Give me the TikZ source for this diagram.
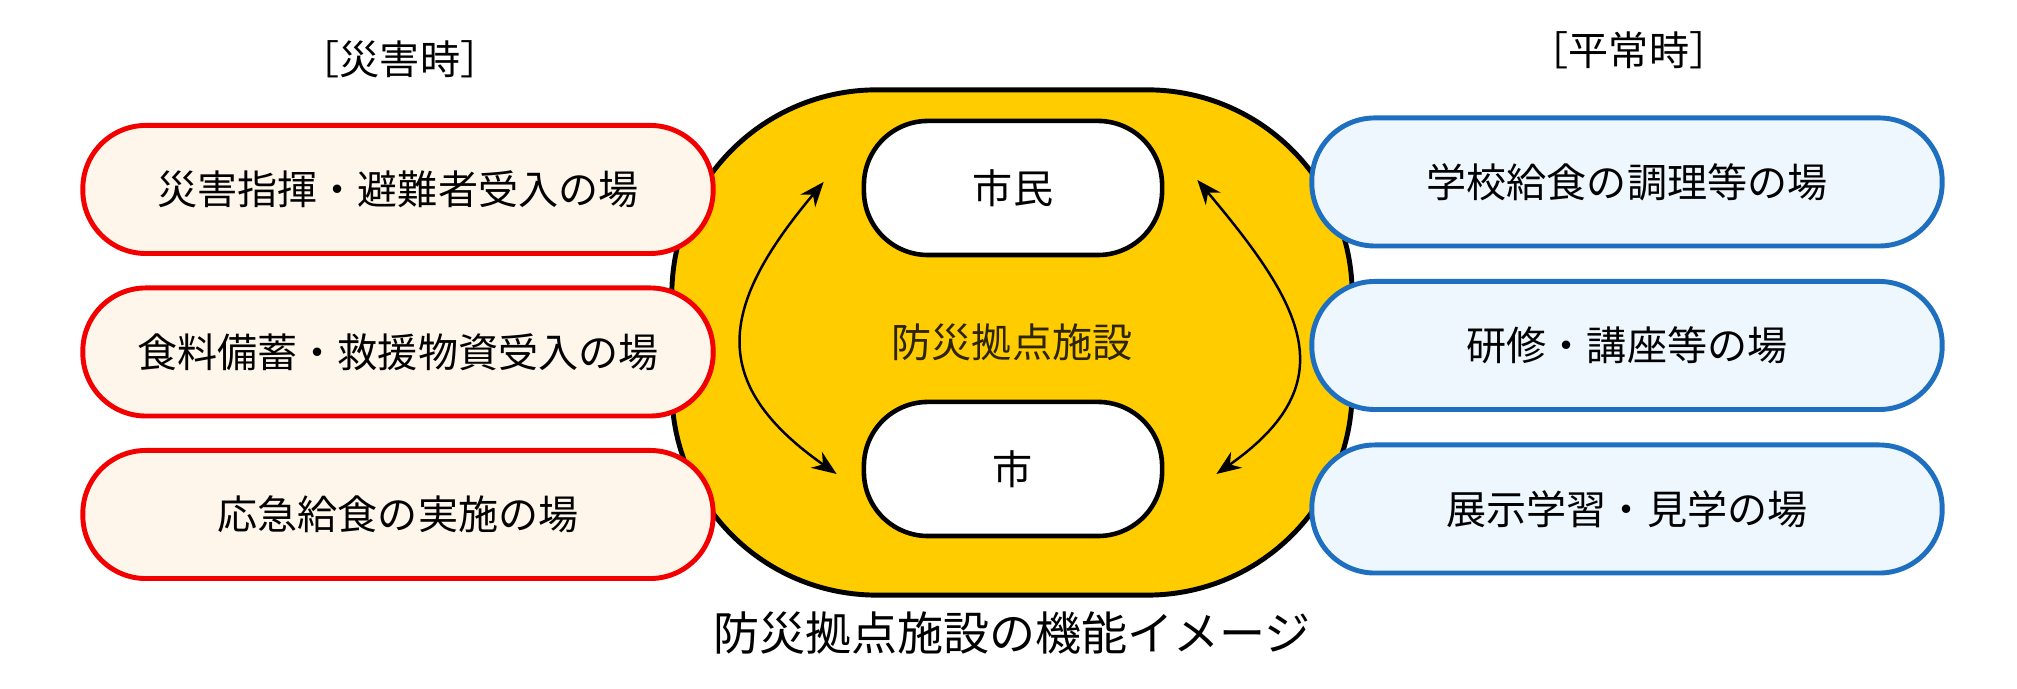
\documentclass[tikz,border=0pt]{standalone}
\usepackage{fontspec}
\setmainfont{Noto Sans CJK JP}
\usetikzlibrary{matrix,arrows.meta,calc}
\definecolor{baseyellow}{HTML}{FFCC00}
\definecolor{baselabel}{HTML}{2E2400}
\definecolor{disasterred}{HTML}{F20000}
\definecolor{disastercream}{HTML}{FEF6EA}
\definecolor{dailyblue}{HTML}{1F6FC1}
\definecolor{dailyfill}{HTML}{EEF7FE}
\newcommand\sitefont{\fontsize{11.4pt}{13pt}\selectfont}
\newcommand\captionfont{\fontsize{13.1pt}{15pt}\selectfont}

\begin{document}
\begin{tikzpicture}[x=0.01cm,y=0.01cm,
    sitebox/.style={line width=1.4pt, rounded corners=0.63cm,
        minimum width=6.3cm, minimum height=1.28cm, font=\sitefont},
    disasterbox/.style={sitebox, draw=disasterred, fill=disastercream},
    dailybox/.style={sitebox, draw=dailyblue, fill=dailyfill},
    partybox/.style={draw, fill=white, line width=1.3pt, rounded corners=0.64cm,
        minimum width=2.98cm, minimum height=1.34cm, font=\sitefont},
    flow/.style={{Stealth[length=7pt,width=5.5pt]}-{Stealth[length=7pt,width=5.5pt]}, line width=0.7pt},
    ]
\useasboundingbox (0,0) rectangle (2017,689);

% base facility
\node (base) at (1012,346.5) [draw, fill=baseyellow, line width=1.4pt,
    rounded corners=2.05cm, minimum width=6.8cm, minimum height=5.05cm,
    text=baselabel, font=\sitefont] {防災拠点施設};
\node (citizen) at (1013,501) [partybox] {市民};
\node (city) at (1013,220) [partybox] {市};

\draw [flow] ($(citizen.west)+(-38,6)$) to[out=230, in=145, looseness=1.4] ($(city.west)+(-25,-5)$);
\draw [flow] ($(citizen.east)+(33,8)$) to[out=310, in=35, looseness=1.4] ($(city.east)+(52,-5)$);

% disaster side
\matrix (L) at (398,337) [matrix of nodes, nodes={disasterbox}, row sep=0.295cm]{
    災害指揮・避難者受入の場\\
    食料備蓄・救援物資受入の場\\
    応急給食の実施の場\\};
\node (Lhead) at (400,630) [font=\sitefont] {［災害時］};

% daily side
\matrix (R) at (1627,343.5) [matrix of nodes, nodes={dailybox}, row sep=0.305cm]{
    学校給食の調理等の場\\
    研修・講座等の場\\
    展示学習・見学の場\\};
\node (Rhead) at (1629,639) [font=\sitefont] {［平常時］};

\node (caption) at (1012,56) [font=\captionfont] {防災拠点施設の機能イメージ};

\end{tikzpicture}
\end{document}
